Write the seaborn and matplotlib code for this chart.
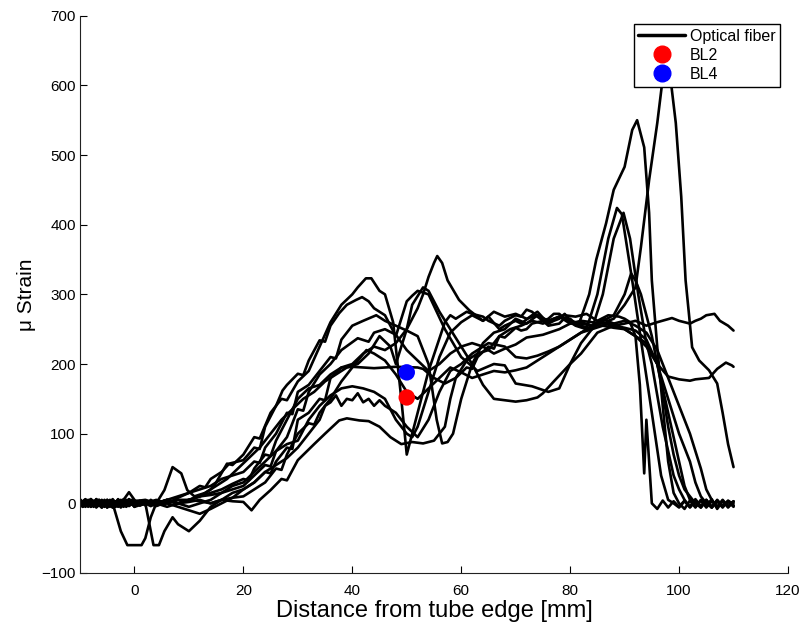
import matplotlib
matplotlib.use("Agg")
import matplotlib.pyplot as plt
from matplotlib.lines import Line2D
import pandas as pd
import seaborn as sns

# Strain profiles along the fibre, one list of (distance [mm], micro-strain) per run
run_01 = [(-10, 4), (-9, -5), (-8, 6), (-7, -4), (-6, 5), (-5, -6), (-4, 3), (-3, -5), (-2, 4), (-1, -3), (0, 0),
          (2, 2), (4, -3), (6, 0), (8, -5), (10, -10), (12, -15), (14, -8), (16, 0), (18, 8), (20, 20), (22, 30),
          (24, 45), (25, 43), (26, 60), (28, 80), (29, 78), (30, 120), (32, 130), (34, 150), (35, 148), (36, 180),
          (38, 195), (40, 196), (44, 194), (48, 196), (52, 195), (53, 193), (55, 180), (57, 172), (59, 180),
          (61, 195), (62, 193), (63, 210), (65, 225), (66, 222), (67, 240), (68, 238), (70, 252), (71, 248),
          (72, 250), (73, 258), (75, 262), (76, 255), (78, 258), (79, 266), (80, 265), (81, 258), (82, 255),
          (84, 250), (85, 256), (86, 255), (87, 262), (88, 265), (90, 285), (92, 310), (93, 368), (94.5, 464),
          (96, 546), (97, 610), (97.6, 640), (98.2, 625), (99.4, 546), (100.4, 440), (101.2, 320), (101.8, 273),
          (102.4, 224), (103.7, 205), (105.5, 191), (107, 172), (108, 130), (109, 85), (110, 52)]

run_02 = [(-10, -5), (-9.5, 3), (-8.5, -5), (-7.5, 4), (-6.5, -4), (-5.5, 5), (-4.5, -5), (-3.5, 3), (-2.5, -6),
          (-1.5, 5), (-0.5, -2), (0.5, 3), (2, 3), (4, 0), (6, 5), (8, 0), (10, 5), (12, 10), (14, 15), (16, 20),
          (18, 28), (20, 35), (21, 33), (22, 50), (24, 70), (25, 68), (26, 90), (28, 120), (30, 150), (32, 165),
          (34, 170), (36, 185), (38, 195), (40, 200), (42, 215), (44, 225), (46, 220), (48, 230), (50, 250),
          (52, 280), (53, 300), (54, 325), (55, 345), (55.6, 355), (56.5, 345), (57.5, 320), (59.6, 292),
          (61.5, 277), (64, 262), (65, 268), (67, 250), (68, 255), (70, 262), (71, 258), (73, 270), (74, 275),
          (76, 258), (77, 262), (78, 265), (79, 272), (80, 262), (81.5, 255), (83.5, 300), (84.8, 350),
          (86.6, 402), (88, 450), (90, 483), (91.4, 536), (92.3, 550), (93.6, 511), (94.5, 417), (95, 320),
          (96, 224), (97, 140), (98, 60), (99, 15), (100, 0), (101, -8), (102, 4), (103, -6), (104, 5), (105, -4),
          (106, 6), (107, -8), (108, 3), (109, -5), (110, 2)]

run_03 = [(-10, 6), (-9, -4), (-8, 5), (-7, -6), (-6, 4), (-5, -5), (-4, 6), (-3, -4), (-2, 5), (-1, 16), (0, 5),
          (1, -3), (2, 0), (4, 4), (6, 0), (8, 5), (10, 5), (12, 10), (14, 20), (15, 30), (17, 57), (18, 55),
          (20, 70), (22, 95), (23, 93), (25, 130), (27, 150), (28, 148), (30, 175), (32, 190), (34, 225), (36, 260),
          (38, 285), (40, 300), (41, 310), (42.5, 323), (43.5, 323), (45, 305), (46, 300), (47.5, 260), (49, 150),
          (50, 70), (51, 100), (52, 130), (54, 190), (57, 260), (58, 270), (59, 265), (61, 275), (62, 272),
          (64, 268), (65, 262), (67, 255), (68, 262), (70, 270), (71, 268), (72, 278), (73, 275), (74, 268),
          (75, 262), (76, 265), (77, 272), (78, 272), (79, 265), (80, 260), (81, 255), (83, 250), (85, 300),
          (87, 380), (88.6, 424), (89.5, 415), (91.4, 320), (93.2, 224), (95, 130), (96.7, 40), (98, 5), (99, 0),
          (100, -6), (101, 3), (102, -5), (103, 4), (104, -6), (105, 5), (106, -5), (107, 3), (108, -4), (109, 2),
          (110, -3)]

run_04 = [(-10, 0), (-9, 6), (-8, -3), (-7, 4), (-6, -6), (-5, 5), (-4, -4), (-3, 6), (-2, -3), (-1, 4), (0, -5),
          (2, 0), (4, 5), (6, 0), (8, 8), (10, 15), (12, 25), (13, 23), (14, 35), (16, 45), (17.4, 57), (20, 62),
          (22, 80), (23, 78), (24, 110), (26, 140), (27.2, 162), (28, 170), (30, 186), (31, 184), (32, 205),
          (34, 234), (35, 232), (36, 255), (37.6, 273), (39, 285), (40.7, 292), (41.8, 296), (43, 290), (44, 280),
          (46, 270), (48, 240), (50, 290), (51, 298), (52, 305), (54, 300), (57, 250), (60, 210), (63, 190),
          (66, 200), (68, 198), (70, 172), (73, 168), (76, 160), (78, 165), (80, 200), (82, 230), (84, 250),
          (86, 300), (88, 380), (89.8, 417), (91, 380), (92.5, 300), (94, 230), (95, 200), (97, 110), (99, 40),
          (100, 20), (101, 5), (102, -5), (103, 6), (104, -4), (105, 5), (106, -6), (107, 4), (108, -5), (109, 3),
          (110, -4)]

run_05 = [(-10, -3), (-9, 5), (-8, -5), (-7, 3), (-6, -6), (-5, 4), (-4, -5), (-3, 5), (-2, -4), (-1, 6), (0, 0),
          (2, 3), (4, 0), (6, 5), (8, 0), (10, 5), (12, 3), (14, 0), (16, 5), (18, 3), (20, 2), (21.5, -10),
          (23, 5), (25, 19), (27, 35), (28, 33), (30, 62), (33, 85), (35, 100), (37.6, 119), (39, 122), (41.3, 119),
          (43, 118), (45, 110), (47, 95), (49, 85), (51, 88), (53, 86), (55, 90), (57, 110), (58, 150), (59, 180),
          (61, 205), (63, 215), (65, 220), (67, 240), (69, 250), (71, 255), (73, 262), (75, 258), (77, 265),
          (79, 270), (81, 268), (83, 272), (85, 262), (87, 270), (89, 268), (90, 265), (91, 260), (92, 240),
          (92.8, 170), (93.6, 43), (94, 120), (94.5, 60), (95, 0), (96, -8), (97, 4), (98, -6), (99, 3), (100, -5),
          (101, 4), (102, -6), (103, 3), (104, -5), (105, 4), (106, -6), (107, 5), (108, -4), (109, 3), (110, -5)]

run_06 = [(-10, 3), (-9.5, -5), (-8.5, 4), (-7.5, -5), (-6.5, 5), (-5.5, -4), (-4.5, 5), (-3.5, -5), (-2.5, 3),
          (-1.5, -5), (-0.5, 4), (1, 3), (2, 0), (3, -4), (4, 0), (6, 5), (8, 10), (10, 15), (12, 20), (14, 25),
          (16, 35), (18, 40), (20, 45), (22, 60), (23, 58), (24, 80), (26, 100), (28, 130), (29, 128), (30, 160),
          (32, 170), (34, 190), (36, 210), (37, 208), (38, 235), (40, 255), (42, 262), (44.4, 270), (46, 262),
          (48, 255), (50, 248), (52, 240), (54, 200), (55.5, 120), (56.5, 86), (57.5, 88), (58.5, 100), (60, 150),
          (62, 200), (64, 230), (66, 245), (68, 250), (70, 265), (72, 258), (74, 270), (76, 262), (78, 268),
          (80, 258), (82, 260), (84, 255), (86, 262), (88, 270), (90, 300), (91.2, 330), (92, 320), (93, 300),
          (94, 270), (95, 240), (96, 200), (97, 160), (98, 110), (99, 70), (100, 40), (101, 20), (102, 10),
          (103, 0), (104, -6), (105, 4), (106, -5), (107, 3), (108, -6), (109, 4), (110, -3)]

run_07 = [(-10, 5), (-9, -3), (-8, 6), (-7, -5), (-6, 3), (-5, -6), (-4, 5), (-3, -3), (-2, 6), (-1, -4), (0, 3),
          (2, 5), (4, 0), (6, -5), (8, 0), (10, 5), (12, 10), (14, 12), (16, 15), (18, 20), (20, 25), (22, 40),
          (24, 55), (25, 53), (26, 75), (28, 95), (30, 135), (31, 133), (32, 160), (34, 185), (36, 200), (38, 220),
          (41, 237), (43, 232), (44, 245), (46, 250), (48, 242), (50, 220), (52, 205), (54, 190), (56, 200),
          (58, 215), (60, 225), (62, 230), (64, 225), (66, 215), (68, 222), (70, 228), (72, 238), (75, 242),
          (78, 250), (80, 258), (82, 262), (84, 260), (86, 258), (88, 255), (90, 258), (92, 262), (94, 255),
          (96, 260), (98.7, 266), (100, 262), (102, 258), (103, 262), (104, 265), (105, 270), (106.5, 272),
          (107.5, 262), (109, 255), (110, 248)]

run_08 = [(-10, -4), (-9, 5), (-8, -5), (-7, 6), (-6, -3), (-5, 5), (-4, -6), (-3, 4), (-2, -5), (-1, 3), (0, -4),
          (2, 2), (4, -4), (6, 3), (8, 0), (10, 2), (12, 5), (14, 0), (16, 5), (18, 8), (20, 10), (22, 20),
          (24, 30), (26, 50), (27, 48), (28, 70), (30, 100), (32, 115), (33, 113), (34, 130), (36, 150), (38, 175),
          (40, 195), (42.6, 220), (44, 215), (46, 205), (48, 185), (50, 160), (52, 150), (54, 165), (56, 180),
          (58, 195), (60, 188), (62, 180), (64, 185), (66, 190), (68, 188), (70, 191), (72, 195), (74, 205),
          (76, 215), (78, 225), (80, 235), (82, 245), (84, 250), (86, 255), (88, 252), (90, 250), (92, 240),
          (94, 225), (96, 200), (98, 182), (100, 178), (102, 176), (103, 178), (105.5, 180), (107, 193),
          (108.6, 202), (109.7, 198), (110, 196)]

run_09 = [(-10, 5), (-9, -4), (-8, 6), (-7, -5), (-6, 4), (-5, -3), (-4, 0), (-2.5, -40), (-1.3, -60), (1.3, -60),
          (2, -50), (3, -20), (4, 0), (6, 5), (8, 0), (10, -5), (12, 0), (14, 5), (16, 15), (18, 25), (20, 30),
          (22, 45), (24, 60), (26, 75), (28, 85), (30, 90), (32, 120), (34, 140), (36, 155), (38, 165), (40, 168),
          (42, 165), (44, 160), (46, 150), (48, 120), (50, 100), (51, 95), (52, 110), (54, 160), (56, 210),
          (58, 245), (60, 260), (62, 270), (64, 262), (66, 275), (68, 268), (70, 272), (72, 265), (74, 270),
          (76, 260), (78, 268), (80, 262), (82, 258), (84, 255), (86, 265), (88, 258), (90, 250), (92, 240),
          (94, 230), (96, 200), (98, 150), (100, 100), (102, 60), (103, 30), (104, 10), (105, 0), (106, -6),
          (107, 4), (108, -5), (109, 3), (110, 0)]

run_10 = [(-10, 2), (-9.5, -5), (-8.5, 5), (-7.5, -4), (-6.5, 5), (-5.5, -5), (-4.5, 4), (-3.5, -5), (-2.5, 5),
          (-1.5, -4), (-0.5, 5), (1, -3), (2, 0), (3.5, -60), (4.5, -60), (5.5, -40), (7, -20), (8, -30),
          (10, -40), (12, -25), (14, -5), (16, 5), (18, 15), (20, 20), (22, 30), (24, 45), (26, 55), (28, 65),
          (30, 80), (32, 100), (34, 120), (35, 140), (36, 145), (37, 155), (38, 140), (39, 150), (40, 148),
          (41, 158), (42, 145), (43, 150), (44, 140), (45, 148), (46, 140), (48, 130), (50, 110), (52, 95),
          (54, 120), (56, 160), (58, 190), (60, 200), (62, 215), (65, 230), (68, 225), (70, 210), (72, 208),
          (74, 212), (76, 218), (78, 225), (80, 235), (82, 245), (84, 255), (86, 260), (88, 258), (90, 262),
          (92, 255), (94, 245), (96, 220), (98, 180), (100, 140), (102, 100), (104, 50), (105, 20), (106, 5),
          (107, -5), (108, 4), (109, -6), (110, 3)]

run_11 = [(-10, -2), (-9, 5), (-8, -4), (-7, 6), (-6, -5), (-5, 3), (-4, -6), (-3, 5), (-2, -3), (-1, 6), (0, -5),
          (1, 4), (2, -3), (3, 5), (4, 0), (5.5, 19), (7, 52), (8.6, 43), (9.7, 19), (11, 10), (13, 15), (15, 25),
          (17, 35), (19, 50), (21, 65), (23, 80), (25, 100), (27, 120), (29, 135), (31, 150), (33, 160), (35, 175),
          (37, 185), (39, 195), (41, 200), (43, 215), (45, 240), (47, 225), (48, 200), (50, 250), (51, 285),
          (53, 310), (54, 305), (56, 275), (58, 250), (60, 225), (62, 200), (64, 170), (66, 150), (68, 148),
          (70, 146), (72, 148), (74, 152), (75, 158), (77, 175), (80, 200), (82, 215), (85, 245), (88, 255),
          (90, 252), (92, 248), (94, 235), (96, 200), (98, 130), (100, 60), (101, 25), (102, 5), (103, -5), (104, 4),
          (105, -6), (106, 3), (107, -5), (108, 5), (109, -4), (110, 3)]

# Discrete strain gauges
gauge_names = ["BL2", "BL4"]
gauge_distance = [50, 50]
gauge_strain = [152, 188]
gauge_colors = {"BL2": "red", "BL4": "blue"}

x_ticks = [0, 20, 40, 60, 80, 100, 120]
y_ticks = [-100, 0, 100, 200, 300, 400, 500, 600, 700]

runs = [run_01, run_02, run_03, run_04, run_05, run_06, run_07, run_08, run_09, run_10, run_11]
fiber = pd.concat(
    [pd.DataFrame(r, columns=["distance", "strain"]).assign(run=i) for i, r in enumerate(runs, 1)],
    ignore_index=True,
)
gauges = pd.DataFrame({"distance": gauge_distance, "strain": gauge_strain, "gauge": gauge_names})

sns.set_style("ticks")
plt.rcParams["font.family"] = ["Liberation Sans", "DejaVu Sans"]
plt.rcParams.update({"text.color": "black", "axes.labelcolor": "black",
                     "xtick.color": "black", "ytick.color": "black"})

fig = plt.figure(figsize=(8.03, 6.25), dpi=100)
ax = fig.add_axes([0.0996, 0.0832, 0.8817, 0.8917])

sns.lineplot(data=fiber, x="distance", y="strain", units="run", estimator=None, sort=False,
             color="black", linewidth=1.9, ax=ax, legend=False)
sns.scatterplot(data=gauges, x="distance", y="strain", hue="gauge", palette=gauge_colors,
                s=140, edgecolor="none", ax=ax, legend=False, zorder=5)

ax.set_xlim(-10, 120)
ax.set_ylim(-100, 700)
ax.set_xticks(x_ticks)
ax.set_yticks(y_ticks)
ax.tick_params(direction="in", length=5, width=0.8, labelsize=11, colors="black")
ax.tick_params(axis="x", pad=8)
ax.tick_params(axis="y", pad=3)
sns.despine(ax=ax)
for side in ("left", "bottom"):
    ax.spines[side].set_linewidth(0.8)
    ax.spines[side].set_color("#222222")

ax.set_xlabel("Distance from tube edge [mm]", fontsize=17, labelpad=1, color="black")
ax.set_ylabel("\u03bc Strain", fontsize=15, labelpad=4, color="black")

handles = [
    Line2D([], [], color="black", linewidth=2.5),
    Line2D([], [], marker="o", linestyle="none", color="red", markersize=12),
    Line2D([], [], marker="o", linestyle="none", color="blue", markersize=12),
]
leg = ax.legend(handles, ["Optical fiber", "BL2", "BL4"], loc="upper right",
                bbox_to_anchor=(0.9887, 0.985), fancybox=False, edgecolor="black",
                framealpha=1, fontsize=11.5, handlelength=2.9, labelspacing=0.25,
                borderpad=0.3, handletextpad=0.3, borderaxespad=0)
leg.get_frame().set_linewidth(1.0)
for txt in leg.get_texts():
    txt.set_color("black")

fig.savefig("out.png", dpi=100)
